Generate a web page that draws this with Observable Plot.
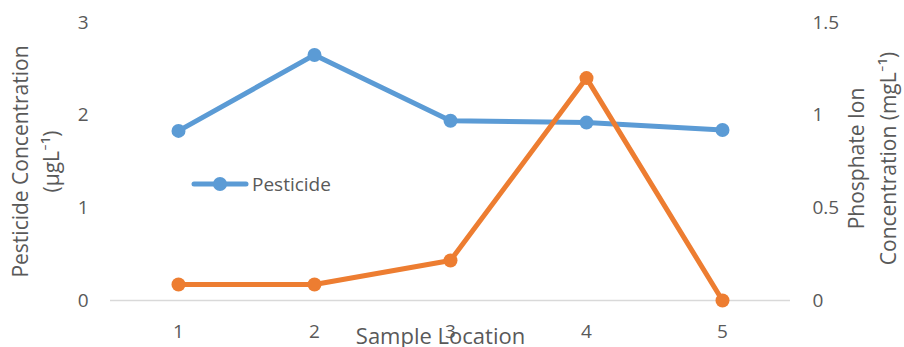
<!DOCTYPE html>
<html>
<head>
<meta charset="utf-8">
<script src="https://cdn.jsdelivr.net/npm/d3@7"></script>
<script src="https://cdn.jsdelivr.net/npm/@observablehq/plot@0.6"></script>
<style>
  html, body { margin: 0; padding: 0; background: #fff; }
  #chart { position: relative; width: 904px; height: 347px; font-family: "Open Sans", Lato, sans-serif; color: #595959; }
  #legend { position: absolute; left: 191px; top: 171px; display: flex; align-items: center; font-size: 19px; color: #595959; }
</style>
</head>
<body>
<div id="chart"></div>
<script>
const locations = [1, 2, 3, 4, 5];
const pesticide = [1.83, 2.65, 1.94, 1.92, 1.84];
const phosphate = [0.086, 0.086, 0.216, 1.2, 0];
const leftTicks = [0, 1, 2, 3];
const rightTicks = [0, 0.5, 1, 1.5];
const seriesNames = ["Pesticide", "Phosphate"];
const colors = ["#5B9BD5", "#ED7D31"];

const ratio = 2; // left max 3 / right max 1.5
const pestData = locations.map((l, i) => ({loc: l, v: pesticide[i]}));
const phosData = locations.map((l, i) => ({loc: l, v: phosphate[i] * ratio}));

const font = '"Open Sans", Lato, sans-serif';
const grey = "#595959";

const chart = Plot.plot({
  width: 904,
  height: 347,
  marginLeft: 110,
  marginRight: 114,
  marginTop: 22,
  marginBottom: 47,
  style: {fontFamily: font, fontSize: "19px", color: grey, background: "transparent", overflow: "visible"},
  x: {type: "point", domain: locations, padding: 0.5},
  y: {domain: [0, 3]},
  marks: [
    Plot.ruleY([0], {stroke: "#d9d9d9", strokeWidth: 1.5}),
    Plot.axisX({ticks: locations, tickSize: 0, tickPadding: 24, label: null, fontSize: 19}),
    Plot.axisY({ticks: leftTicks, tickFormat: d => String(d), tickSize: 0, tickPadding: 22, label: null, fontSize: 19}),
    Plot.axisY({anchor: "right", ticks: rightTicks.map(d => d * ratio), tickFormat: d => String(d / ratio), tickSize: 0, tickPadding: 22, label: null, fontSize: 19}),
    Plot.line(pestData, {x: "loc", y: "v", stroke: colors[0], strokeWidth: 5}),
    Plot.dot(pestData, {x: "loc", y: "v", r: 7, fill: colors[0]}),
    Plot.line(phosData, {x: "loc", y: "v", stroke: colors[1], strokeWidth: 5}),
    Plot.dot(phosData, {x: "loc", y: "v", r: 7, fill: colors[1]}),
    Plot.text(["Sample Location"], {frameAnchor: "bottom", lineAnchor: "middle", dx: -10, dy: 36, fontSize: 22, fill: grey}),
    Plot.text(["Pesticide Concentration"], {frameAnchor: "left", textAnchor: "middle", lineAnchor: "middle", rotate: -90, dx: -89, dy: 0, fontSize: 21, fill: grey}),
    Plot.text(["(µgL⁻¹)"], {frameAnchor: "left", textAnchor: "middle", lineAnchor: "middle", rotate: -90, dx: -58, dy: 0, fontSize: 21, fill: grey}),
    Plot.text(["Phosphate Ion"], {frameAnchor: "right", textAnchor: "middle", lineAnchor: "middle", rotate: -90, dx: 67, dy: -3, fontSize: 21, fill: grey}),
    Plot.text(["Concentration (mgL⁻¹)"], {frameAnchor: "right", textAnchor: "middle", lineAnchor: "middle", rotate: -90, dx: 99, dy: -3, fontSize: 21, fill: grey})
  ]
});

const container = document.getElementById("chart");
container.appendChild(chart);

const legend = document.createElement("div");
legend.id = "legend";
legend.innerHTML = `<svg width="58" height="24" style="margin-right:3px"><line x1="3" y1="12" x2="55" y2="12" stroke="${colors[0]}" stroke-width="5" stroke-linecap="round"/><circle cx="29" cy="12" r="7" fill="${colors[0]}"/></svg><span>${seriesNames[0]}</span>`;
container.appendChild(legend);
</script>
</body>
</html>
